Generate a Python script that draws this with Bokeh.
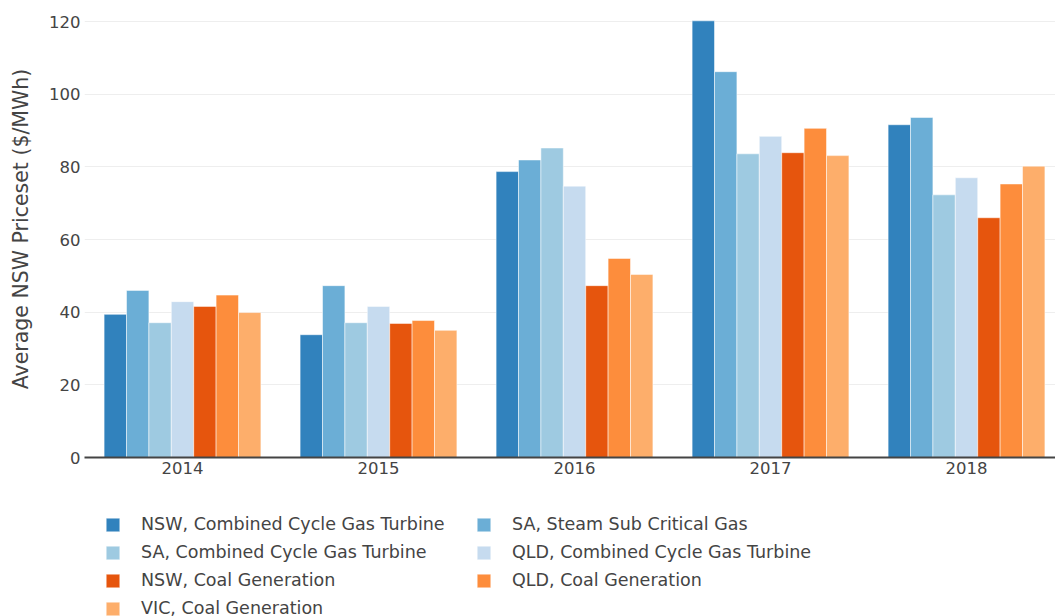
from bokeh.plotting import figure
from bokeh.models import ColumnDataSource, Range1d, Legend, LegendItem, FixedTicker
from bokeh.layouts import column
from bokeh.transform import dodge
from bokeh.embed import file_html
from bokeh.resources import INLINE

years = ["2014", "2015", "2016", "2017", "2018"]
series_names = [
    "NSW, Combined Cycle Gas Turbine",
    "SA, Steam Sub Critical Gas",
    "SA, Combined Cycle Gas Turbine",
    "QLD, Combined Cycle Gas Turbine",
    "NSW, Coal Generation",
    "QLD, Coal Generation",
    "VIC, Coal Generation",
]
nsw_ccgt = [39.4, 33.8, 78.7, 120.2, 91.6]
sa_steam = [46.0, 47.3, 81.9, 106.2, 93.6]
sa_ccgt = [37.1, 37.1, 85.2, 83.6, 72.3]
qld_ccgt = [42.9, 41.6, 74.7, 88.4, 77.0]
nsw_coal = [41.6, 36.9, 47.3, 83.9, 66.0]
qld_coal = [44.7, 37.7, 54.8, 90.6, 75.3]
vic_coal = [39.9, 35.0, 50.4, 83.1, 80.2]
series_values = [nsw_ccgt, sa_steam, sa_ccgt, qld_ccgt, nsw_coal, qld_coal, vic_coal]
colors = ["#3182bd", "#6baed6", "#9ecae1", "#c6dbef", "#e6550d", "#fd8d3c", "#fdae6b"]
y_ticks = [0, 20, 40, 60, 80, 100, 120]

FONT = "DejaVu Sans"
TXT = "#444444"

xs = list(range(len(years)))
p = figure(frame_width=971, frame_height=457, output_backend="svg", toolbar_location=None,
           x_range=Range1d(-0.5, 4.454), y_range=Range1d(0, 125.8),
           min_border_top=0, min_border_right=0, min_border_left=84, min_border_bottom=26)
p.outline_line_color = None
p.background_fill_color = "white"
p.border_fill_color = "white"

n = len(series_names)
group = 0.8
bw = group / n
sources = []
for i, (name, vals, c) in enumerate(zip(series_names, series_values, colors)):
    src = ColumnDataSource(dict(x=xs, top=vals))
    sources.append(src)
    off = (i - (n - 1) / 2) * bw
    p.vbar(x=dodge("x", off, range=p.x_range), top="top", bottom=0, width=bw,
           source=src, fill_color=c, line_color="white", line_alpha=0.5, line_width=1)

# axes
p.xaxis.ticker = FixedTicker(ticks=xs)
p.xaxis.major_label_overrides = {i: y for i, y in enumerate(years)}
p.xaxis.axis_line_color = TXT
p.xaxis.axis_line_width = 2
p.xaxis.major_tick_line_color = None
p.xaxis.minor_tick_line_color = None
p.xaxis.major_tick_out = 0
p.xaxis.major_tick_in = 0
p.xaxis.major_label_text_font = FONT
p.xaxis.major_label_text_font_size = "16.5px"
p.xaxis.major_label_text_color = TXT
p.xaxis.major_label_standoff = 4

p.yaxis.ticker = FixedTicker(ticks=y_ticks)
p.yaxis.axis_line_color = None
p.yaxis.major_tick_line_color = None
p.yaxis.minor_tick_line_color = None
p.yaxis.major_tick_out = 0
p.yaxis.major_tick_in = 0
p.yaxis.major_label_text_font = FONT
p.yaxis.major_label_text_font_size = "16.5px"
p.yaxis.major_label_text_color = TXT
p.yaxis.major_label_standoff = 4
p.yaxis.axis_label = "Average NSW Priceset ($/MWh)"
p.yaxis.axis_label_text_font = FONT
p.yaxis.axis_label_text_font_size = "20.5px"
p.yaxis.axis_label_text_font_style = "normal"
p.yaxis.axis_label_text_color = TXT
p.yaxis.axis_label_standoff = 13

p.xgrid.grid_line_color = None
p.ygrid.grid_line_color = "#eeeeee"
p.ygrid.grid_line_width = 1

# legend strip below the chart (its view window holds no data, only the legend)
p2 = figure(width=1055, height=133, output_backend="svg", toolbar_location=None,
            x_axis_type=None, y_axis_type=None, x_range=Range1d(-10, -9), y_range=Range1d(-10, -9),
            min_border=0)
p2.outline_line_color = None
p2.border_fill_color = "white"
swatches = [p2.vbar(x="x", top="top", bottom=0, width=bw, source=src, fill_color=c,
                    line_color="white", line_alpha=0.5, line_width=1)
            for src, c in zip(sources, colors)]
legend = Legend(items=[LegendItem(label=nm, renderers=[r]) for nm, r in zip(series_names, swatches)],
                orientation="horizontal", ncols=2, location=(20, -2),
                label_text_font=FONT, label_text_font_size="17.5px", label_text_color=TXT,
                glyph_width=17, glyph_height=17, label_height=17, spacing=8,
                label_standoff=20, label_width=326, padding=0, margin=0,
                border_line_color=None, background_fill_alpha=0)
p2.add_layout(legend, "center")

layout = column(p, p2, spacing=0)
open("out.html", "w").write(file_html(layout, INLINE))
